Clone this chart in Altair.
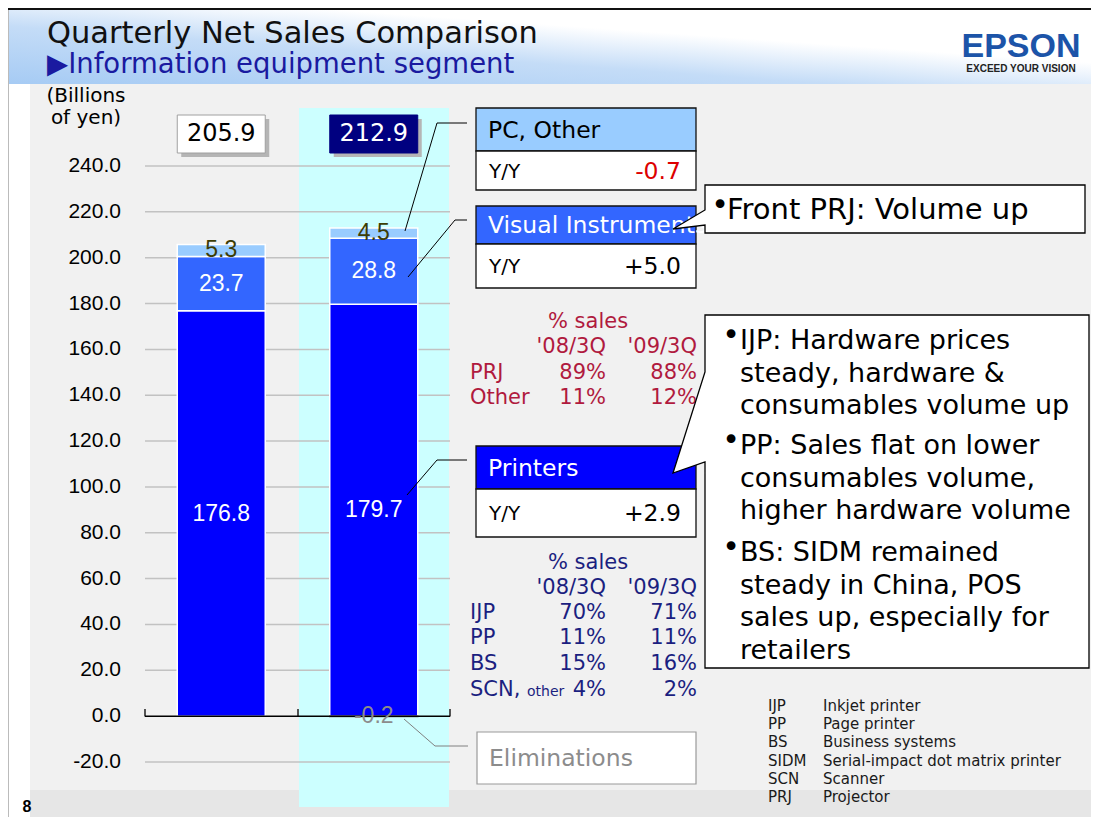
import altair as alt
import pandas as pd

# ---------------- data ----------------
quarters = ["2008/3Q", "2009/3Q"]
segments = ["Printers", "Visual Instruments", "PC, Other", "Eliminations"]
printers = [176.8, 179.7]
visual_instruments = [23.7, 28.8]
pc_other = [5.3, 4.5]
eliminations = [0.0, -0.2]
totals = [205.9, 212.9]
y_ticks = [-20, 0, 20, 40, 60, 80, 100, 120, 140, 160, 180, 200, 220, 240]
y_title = ["(Billions", "of yen)"]

yy_names = ["PC, Other", "Visual Instruments", "Printers"]
yy_label = "Y/Y"
yy_values = ["-0.7", "+5.0", "+2.9"]
elim_name = "Eliminations"

share_title = "% sales"
share_cols = ["'08/3Q", "'09/3Q"]
vi_rows = ["PRJ", "Other"]
vi_08 = ["89%", "11%"]
vi_09 = ["88%", "12%"]
pr_rows = ["IJP", "PP", "BS", "SCN,"]
pr_08 = ["70%", "11%", "15%", "4%"]
pr_09 = ["71%", "11%", "16%", "2%"]
pr_other_note = "other"

front_note = "Front PRJ:  Volume up"
printer_notes = [
    ["IJP:  Hardware prices", "steady, hardware &", "consumables volume up"],
    ["PP:  Sales flat on lower", "consumables volume,", "higher hardware volume"],
    ["BS:  SIDM remained", "steady in China, POS", "sales up, especially for", "retailers"],
]
abbr_keys = ["IJP", "PP", "BS", "SIDM", "SCN", "PRJ"]
abbr_desc = ["Inkjet printer", "Page printer", "Business systems",
             "Serial-impact dot matrix printer", "Scanner", "Projector"]

title = "Quarterly Net Sales Comparison"
subtitle = "\u25b6Information equipment segment"
logo = "EPSON"
tagline = "EXCEED YOUR VISION"
page_no = "8"

# ---------------- tables for the library ----------------
rows = []
for i, q in enumerate(quarters):
    base = 0.0
    for o, (s, vals) in enumerate(zip(segments, [printers, visual_instruments, pc_other, eliminations])):
        v = vals[i]
        if v == 0:
            continue
        if v > 0:
            lo, hi = base, base + v
            base = hi
        else:
            lo, hi = v, 0.0
        rows.append(dict(quarter=q, segment=s, value=v, order=o, lo=lo, hi=hi,
                         mid=(lo + hi) / 2, label=f"{v:.1f}"))
bars_df = pd.DataFrame(rows)
tot_df = pd.DataFrame({"quarter": quarters, "total": totals,
                       "label": [f"{t:.1f}" for t in totals]})
grid_df = pd.DataFrame({"v": [t for t in y_ticks if t != 0]})
tick_df = pd.DataFrame({"v": y_ticks, "lab": [f"{t:.1f}" for t in y_ticks]})
zero_df = pd.DataFrame({"v": [0]})

# ---------------- layout helpers ----------------
OX, OY = 145, 166          # page position of the plot origin
W, H = 305, 596
one = pd.DataFrame({"k": [0]})
DV = "DejaVu Sans"
AR = "Liberation Sans"


def px(X):
    return X - OX


def py(Y):
    return Y - OY


def rect(x0, y0, x1, y1, fill, stroke=None, sw=0.0):
    m = dict(fill=fill, strokeWidth=sw)
    if stroke:
        m["stroke"] = stroke
    return alt.Chart(one).mark_rect(**m).encode(
        x=alt.value(px(x0)), x2=alt.value(px(x1)),
        y=alt.value(py(y0)), y2=alt.value(py(y1)))


def line(x0, y0, x1, y1, color="black", sw=1.0):
    return alt.Chart(one).mark_rule(color=color, strokeWidth=sw).encode(
        x=alt.value(px(x0)), y=alt.value(py(y0)),
        x2=alt.value(px(x1)), y2=alt.value(py(y1)))


def text(s, X, Y, size, color="black", align="left", font=DV, weight="normal",
         baseline="middle", lh=None):
    m = dict(text=s, align=align, baseline=baseline, fontSize=size, font=font,
             color=color, fontWeight=weight)
    if lh:
        m["lineHeight"] = lh
    return alt.Chart(one).mark_text(**m).encode(x=alt.value(px(X)), y=alt.value(py(Y)))


def callout(points):
    d = "M" + " L".join(f"{px(x)},{py(y)}" for x, y in points) + " Z"
    return alt.Chart(one).mark_point(shape=d, size=4, filled=True, fill="white",
                                     stroke="black", strokeWidth=1.3, opacity=1).encode(
        x=alt.value(0), y=alt.value(0))


xs = alt.Scale(domain=quarters, paddingInner=0.423, paddingOuter=0.2115)
ys = alt.Scale(domain=[-20, 240], nice=False, zero=False)
xaxis = alt.Axis(title=None, labelAngle=0, labelFont=AR, labelFontSize=21,
                 labelColor="black", labelPadding=24, ticks=False, domain=False,
                 grid=False, zindex=1)

layers = []

# ---------------- slide background ----------------
header_grad = alt.LinearGradient(
    gradient="linear",
    stops=[alt.GradientStop(color="#a6cbf4", offset=0),
           alt.GradientStop(color="#c4dcf7", offset=0.38),
           alt.GradientStop(color="#ffffff", offset=0.64)],
    x1=0, x2=1, y1=1, y2=0)
layers.append(rect(8, 8, 1091, 84, header_grad))
layers.append(rect(8, 8, 1091, 10, "#111111"))
layers.append(rect(30, 84, 1091, 790, "#f1f1f1"))
layers.append(rect(30, 790, 1091, 817, "#e6e6e6"))
layers.append(rect(8, 10, 9, 817, "#bbbbbb"))

# highlight band for 2009/3Q
layers.append(rect(299, 108, 449, 807, "#ccffff"))

# grid lines
layers.append(alt.Chart(grid_df).mark_rule(color="#c2c2c2", strokeWidth=1.5).encode(
    y=alt.Y("v:Q", scale=ys, axis=None),
    x=alt.value(0), x2=alt.value(W)))

# y tick labels (placed by the y scale)
layers.append(alt.Chart(tick_df).mark_text(font=AR, fontSize=21, color="black",
                                           align="right", baseline="middle").encode(
    y=alt.Y("v:Q", scale=ys, axis=None),
    x=alt.value(px(121)),
    text="lab:N"))

# bars
layers.append(alt.Chart(bars_df).mark_bar(strokeWidth=1.5).encode(
    x=alt.X("quarter:N", scale=xs, axis=xaxis, sort=quarters),
    y=alt.Y("lo:Q", scale=ys, axis=None),
    y2="hi:Q",
    color=alt.Color("segment:N", scale=alt.Scale(
        domain=segments, range=["#0000ff", "#3366ff", "#99ccff", "#777777"]), legend=None),
    stroke=alt.condition("datum.segment == 'Eliminations'", alt.value("#666666"), alt.value("white")),
))

# zero line and category ticks
layers.append(alt.Chart(zero_df).mark_rule(color="black", strokeWidth=1.5).encode(
    y=alt.Y("v:Q", scale=ys, axis=None), x=alt.value(0), x2=alt.value(W)))
for tx in (145, 298, 450):
    layers.append(line(tx, 709, tx, 716.5, "black", 1.3))


# bar labels
def seg_labels(segs, color):
    return alt.Chart(bars_df).transform_filter(
        alt.FieldOneOfPredicate(field="segment", oneOf=segs)).mark_text(
        font=AR, fontSize=23, color=color, baseline="middle").encode(
        x=alt.X("quarter:N", scale=xs, axis=None, sort=quarters),
        y=alt.Y("mid:Q", scale=ys, axis=None),
        text="label:N")


layers.append(seg_labels(["Printers", "Visual Instruments"], "white"))
layers.append(seg_labels(["PC, Other"], "#3d3d05"))
layers.append(seg_labels(["Eliminations"], "#8c8c8c"))

# total boxes
layers.append(alt.Chart(tot_df).mark_bar(xOffset=4, color="#b5b5b5").encode(
    x=alt.X("quarter:N", scale=xs, axis=None, sort=quarters),
    y=alt.value(py(119)), y2=alt.value(py(157))))
layers.append(alt.Chart(tot_df).mark_bar(strokeWidth=1).encode(
    x=alt.X("quarter:N", scale=xs, axis=None, sort=quarters),
    y=alt.value(py(115)), y2=alt.value(py(153)),
    fill=alt.condition("datum.quarter == '2009/3Q'", alt.value("#000080"), alt.value("white")),
    stroke=alt.condition("datum.quarter == '2009/3Q'", alt.value("#000080"), alt.value("#a0a0a0"))))
layers.append(alt.Chart(tot_df).mark_text(font=DV, fontSize=24, baseline="middle").encode(
    x=alt.X("quarter:N", scale=xs, axis=None, sort=quarters),
    y=alt.value(py(134)),
    text="label:N",
    color=alt.condition("datum.quarter == '2009/3Q'", alt.value("white"), alt.value("black"))))

# y axis title
layers.append(text(y_title, 86, 96, 20, align="center", font=DV, lh=22))

# ---------------- Y/Y boxes ----------------
hdr_fill = ["#99ccff", "#3366ff", "#0000ff"]
hdr_txt = ["black", "white", "white"]
val_col = ["#dd0000", "black", "black"]
tops = [108, 206, 446]
mids = [151, 244, 489]
bots = [190, 288, 537]
for i in range(3):
    layers.append(rect(476, tops[i], 696, mids[i], hdr_fill[i], "#111111", 1.3))
    layers.append(rect(476, mids[i], 696, bots[i], "white", "#111111", 1.3))
    layers.append(text(yy_names[i], 488, (tops[i] + mids[i]) / 2 + 1, 23.5, color=hdr_txt[i]))
    layers.append(text(yy_label, 489, (mids[i] + bots[i]) / 2 + 1, 20))
    layers.append(text(yy_values[i], 681, (mids[i] + bots[i]) / 2 + 1, 23.5,
                       color=val_col[i], align="right"))

layers.append(rect(477, 732, 696, 784, "white", "#9a9a9a", 1.2))
layers.append(text(elim_name, 489, 759, 23.5, color="#8c8c8c"))

# leader lines
layers.append(line(437, 123, 467, 123))
layers.append(line(437, 123, 405, 231))
layers.append(line(455, 220, 467, 220))
layers.append(line(455, 220, 408, 277))
layers.append(line(437, 460, 467, 460))
layers.append(line(437, 460, 407, 495))
layers.append(line(404, 719, 435, 746, "#808080"))
layers.append(line(435, 746, 468, 746, "#808080"))

# ---------------- share tables ----------------
RED = "#b01a3e"
NAVY = "#1b1f80"
layers.append(text(share_title, 588, 322, 21, RED, align="center"))
layers.append(text(share_cols[0], 606, 347, 21, RED, align="right"))
layers.append(text(share_cols[1], 697, 347, 21, RED, align="right"))
for j, yv in enumerate([373, 398]):
    layers.append(text(vi_rows[j], 470, yv, 21, RED))
    layers.append(text(vi_08[j], 606, yv, 21, RED, align="right"))
    layers.append(text(vi_09[j], 697, yv, 21, RED, align="right"))

layers.append(text(share_title, 588, 563, 21, NAVY, align="center"))
layers.append(text(share_cols[0], 606, 588, 21, NAVY, align="right"))
layers.append(text(share_cols[1], 697, 588, 21, NAVY, align="right"))
for j, yv in enumerate([613, 638, 664, 690]):
    layers.append(text(pr_rows[j], 470, yv, 21, NAVY))
    layers.append(text(pr_08[j], 606, yv, 21, NAVY, align="right"))
    layers.append(text(pr_09[j], 697, yv, 21, NAVY, align="right"))
layers.append(text(pr_other_note, 527, 692, 14, NAVY))

# ---------------- callouts ----------------
layers.append(callout([(705, 185), (1085, 185), (1085, 233), (705, 233),
                       (705, 225), (673, 229), (705, 210)]))
layers.append(text("\u2022", 720, 206, 30, align="center"))
layers.append(text(front_note, 727, 219, 29, baseline="alphabetic"))

layers.append(callout([(705, 315), (1089, 315), (1089, 668), (705, 668),
                       (705, 462), (673, 473), (705, 372)]))
starts = [349, 454, 561]
for k, note in enumerate(printer_notes):
    layers.append(text("\u2022", 731, starts[k] - 13, 30, align="center"))
    layers.append(text(note, 740, starts[k], 27, baseline="alphabetic", lh=32.7))

# abbreviations
for k in range(len(abbr_keys)):
    yv = 706 + k * 18.2
    layers.append(text(abbr_keys[k], 768, yv, 15, "#1a1a1a"))
    layers.append(text(abbr_desc[k], 823, yv, 15, "#1a1a1a"))

# ---------------- titles and logo ----------------
layers.append(text(title, 47, 43, 30.5, "#111111", baseline="alphabetic"))
layers.append(text(subtitle, 47, 73, 27.5, "#1a1aa0", baseline="alphabetic"))
layers.append(text(logo, 1021, 57, 34, "#1c54a8", align="center",
                   font=AR, weight="bold", baseline="alphabetic"))
layers.append(text(tagline, 1021, 72, 10, "#222222", align="center", font=AR,
                   weight="bold", baseline="alphabetic"))
layers.append(text(page_no, 27, 807, 16, "black", align="center", font=AR, weight="bold"))

chart = alt.layer(*layers).properties(
    width=W, height=H,
    padding={"left": OX - 8, "top": OY - 8, "right": 1083 - (OX - 8) - W,
             "bottom": 809 - (OY - 8) - H},
    autosize=alt.AutoSizeParams(type="none"),
    background="white",
).configure_view(stroke=None)

chart.save("out.html", embed_options={"renderer": "svg", "actions": False})
